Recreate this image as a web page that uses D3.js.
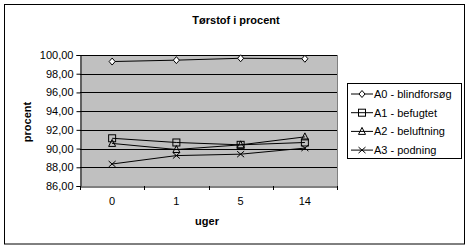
<!DOCTYPE html>
<html><head><meta charset="utf-8">
<script src="https://cdn.jsdelivr.net/npm/d3@7"></script>
<style>body{margin:0;background:#fff}svg{display:block;font-family:"Liberation Sans",Arial,sans-serif}</style>
</head><body><svg id="c" width="468" height="250"></svg>
<script>
const categories = ["0","1","5","14"];
const seriesNames = ["A0 - blindforsøg","A1 - befugtet","A2 - beluftning","A3 - podning"];
const A0 = [99.3, 99.45, 99.65, 99.6];
const A1 = [91.1, 90.65, 90.4, 90.65];
const A2 = [90.55, 89.9, 90.4, 91.25];
const A3 = [88.35, 89.25, 89.4, 90.05];
const yTicks = [86,88,90,92,94,96,98,100];
const markers = ["diamond","square","triangle","cross"];
const series = [A0,A1,A2,A3];

const svg = d3.select("#c");
svg.append("rect").attr("x",4.5).attr("y",4.5).attr("width",460).attr("height",239.5)
  .attr("fill","#fff").attr("stroke","#000");

const L=80, R=337, T=55, B=186;
const x = d3.scaleBand().domain(categories).range([L,R]);
const y = d3.scaleLinear().domain([86,100]).range([B,T]);

svg.append("rect").attr("x",L).attr("y",T).attr("width",R-L).attr("height",B-T).attr("fill","#C0C0C0");
svg.append("line").attr("x1",R+0.5).attr("x2",R+0.5).attr("y1",T).attr("y2",B).attr("stroke","#808080");

// gridlines
svg.append("g").selectAll("line").data(yTicks.slice(1)).join("line")
  .attr("x1",L).attr("x2",R).attr("y1",d=>Math.round(y(d))+0.5).attr("y2",d=>Math.round(y(d))+0.5)
  .attr("stroke","#000");

const fmt = d => d3.format(".2f")(d).replace(".",",");
const ya = svg.append("g").attr("transform",`translate(${L+0.5},0)`)
  .call(d3.axisLeft(y).tickValues(yTicks).tickFormat(fmt).tickSize(4).tickPadding(3));
ya.select(".domain").attr("stroke","#000");
ya.selectAll("text").attr("font-size",11).attr("fill","#000");

const xa = svg.append("g").attr("transform",`translate(0,${B+0.5})`)
  .call(d3.axisBottom(x).tickSize(0).tickPadding(11));
xa.select(".domain").attr("stroke","#000");
xa.selectAll("text").attr("font-size",11).attr("fill","#000");
const bounds = categories.map(c=>x(c)).concat([R]);
svg.append("g").selectAll("line").data(bounds).join("line")
  .attr("x1",d=>Math.round(d)+0.5).attr("x2",d=>Math.round(d)+0.5).attr("y1",B).attr("y2",B+4).attr("stroke","#000");

function marker(g, type){
  if(type==="diamond") g.append("path").attr("d","M0,-3.5L3,0L0,3.5L-3,0Z").attr("fill","#fff").attr("stroke","#000");
  else if(type==="square") g.append("rect").attr("x",-3.5).attr("y",-3.5).attr("width",7).attr("height",7).attr("fill","none").attr("stroke","#000");
  else if(type==="triangle") g.append("path").attr("d","M0,-4L3.5,3L-3.5,3Z").attr("fill","none").attr("stroke","#000");
  else g.append("path").attr("d","M-3.5,-3L3.5,3M-3.5,3L3.5,-3").attr("fill","none").attr("stroke","#000");
}

const cx = c => x(c)+x.bandwidth()/2;
const line = d3.line().x((d,i)=>cx(categories[i])).y(d=>y(d));
series.forEach((s,k)=>{
  svg.append("path").attr("d",line(s)).attr("fill","none").attr("stroke","#000").attr("stroke-width",1);
  s.forEach((v,i)=>{
    const g = svg.append("g").attr("transform",`translate(${cx(categories[i])},${y(v)})`);
    marker(g, markers[k]);
  });
});

svg.append("text").attr("x",236).attr("y",24).attr("text-anchor","middle")
  .attr("font-size",11).attr("font-weight","bold").text("Tørstof i procent");
svg.append("text").attr("x",207).attr("y",225).attr("text-anchor","middle")
  .attr("font-size",11).attr("font-weight","bold").text("uger");
svg.append("text").attr("transform","translate(31,122) rotate(-90)").attr("text-anchor","middle")
  .attr("font-size",11).attr("font-weight","bold").text("procent");

// legend
const lg = svg.append("g");
lg.append("rect").attr("x",347.5).attr("y",83.5).attr("width",114).attr("height",75).attr("fill","#fff").attr("stroke","#000");
seriesNames.forEach((n,k)=>{
  const yy = 94 + k*18.7;
  lg.append("line").attr("x1",351).attr("x2",373).attr("y1",yy).attr("y2",yy).attr("stroke","#000");
  marker(lg.append("g").attr("transform",`translate(362,${yy})`), markers[k]);
  lg.append("text").attr("x",374).attr("y",yy+4).attr("font-size",11).text(n);
});
</script></body></html>
